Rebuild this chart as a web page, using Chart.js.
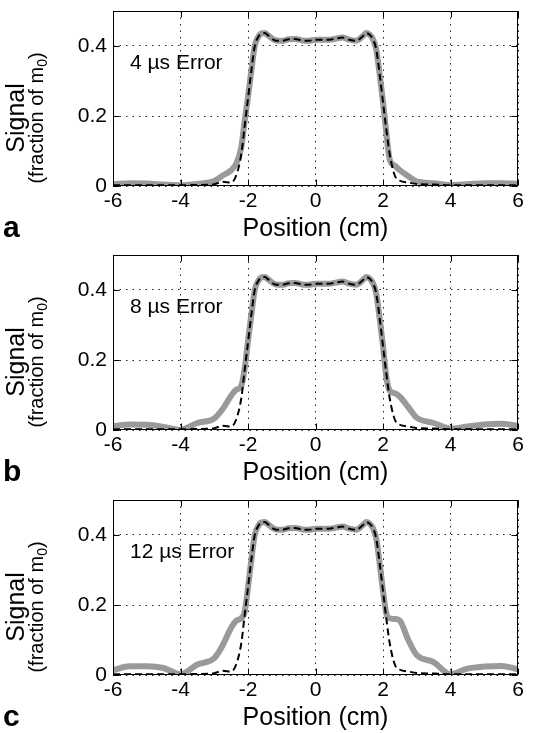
<!DOCTYPE html>
<html lang="en">
<head>
<meta charset="UTF-8">
<title>Signal vs position</title>
<style>
  html, body { margin: 0; padding: 0; background: #fff; }
  .panel { position: relative; width: 534px; }
</style>
</head>
<body>
  <div class="panel" style="height:244px"><canvas id="chartA"></canvas></div>
  <div class="panel" style="height:245px"><canvas id="chartB"></canvas></div>
  <div class="panel" style="height:244px"><canvas id="chartC"></canvas></div>
<script src="https://cdn.jsdelivr.net/npm/chart.js@4.4.0/dist/chart.umd.min.js"></script>
<script>
// position in cm
const positions = [-6, -5.5, -5, -4.5, -4, -3.5, -3, -2.75, -2.5, -2.35,
  -2.2, -2.1, -2, -1.9, -1.8, -1.7, -1.6, -1.5, -1.4, -1.2,
  -1, -0.8, -0.6, -0.4, -0.2, 0, 0.2, 0.4, 0.6, 0.8,
  1, 1.2, 1.4, 1.5, 1.6, 1.7, 1.8, 1.9, 2, 2.1,
  2.2, 2.35, 2.5, 2.75, 3, 3.5, 4, 4.5, 5, 5.5, 6];

// dashed reference profile (no error)
const idealProfile = [0.002, 0.002, 0.002, 0.002, 0.002, 0.003, 0.005, 0.012, 0.010, 0.030,
  0.090, 0.170, 0.250, 0.330, 0.400, 0.425, 0.436, 0.437, 0.430, 0.416,
  0.415, 0.419, 0.420, 0.416, 0.415, 0.418, 0.418, 0.418, 0.421, 0.424,
  0.418, 0.415, 0.428, 0.437, 0.433, 0.420, 0.390, 0.320, 0.240, 0.160,
  0.090, 0.030, 0.015, 0.010, 0.006, 0.004, 0.002, 0.002, 0.002, 0.002, 0.002];

// gray profiles with timing error
const signal4us = [0.005, 0.008, 0.007, 0.004, 0.002, 0.006, 0.014, 0.030, 0.045, 0.064,
  0.110, 0.185, 0.255, 0.330, 0.400, 0.425, 0.436, 0.437, 0.430, 0.417,
  0.415, 0.419, 0.420, 0.416, 0.415, 0.418, 0.418, 0.418, 0.421, 0.424,
  0.418, 0.415, 0.428, 0.437, 0.433, 0.420, 0.390, 0.320, 0.240, 0.150,
  0.075, 0.058, 0.045, 0.028, 0.013, 0.008, 0.003, 0.005, 0.008, 0.008, 0.006];

const signal8us = [0.011, 0.016, 0.015, 0.009, 0.001, 0.020, 0.033, 0.060, 0.098, 0.115,
  0.126, 0.175, 0.255, 0.330, 0.400, 0.425, 0.436, 0.437, 0.430, 0.417,
  0.415, 0.419, 0.420, 0.416, 0.415, 0.418, 0.418, 0.418, 0.421, 0.424,
  0.418, 0.415, 0.428, 0.437, 0.433, 0.420, 0.390, 0.320, 0.240, 0.150,
  0.112, 0.105, 0.095, 0.065, 0.035, 0.020, 0.004, 0.010, 0.016, 0.018, 0.012];

const signal12us = [0.014, 0.025, 0.025, 0.020, 0.002, 0.030, 0.048, 0.085, 0.135, 0.155,
  0.162, 0.180, 0.250, 0.330, 0.400, 0.425, 0.436, 0.437, 0.430, 0.417,
  0.415, 0.419, 0.420, 0.416, 0.415, 0.418, 0.418, 0.418, 0.421, 0.424,
  0.418, 0.415, 0.428, 0.437, 0.433, 0.420, 0.390, 0.320, 0.240, 0.175,
  0.162, 0.160, 0.155, 0.100, 0.057, 0.037, 0.002, 0.018, 0.024, 0.026, 0.016];

const xTicks = [-6, -4, -2, 0, 2, 4, 6];
const yTicks = [0, 0.2, 0.4];
const errorLabels = ['4 \u00b5s Error', '8 \u00b5s Error', '12 \u00b5s Error'];
const panelLetters = ['a', 'b', 'c'];

const FONT = '"Liberation Sans", Arial, Helvetica, sans-serif';

const toPoints = vals => positions.map((x, i) => ({ x: x, y: vals[i] }));

const frameAndText = {
  id: 'frameAndText',
  afterDatasetsDraw(chart) {
    const { ctx, chartArea: a, scales } = chart;
    const l = Math.round(a.left) + 0.5, r = Math.round(a.right) - 0.5;
    const t = Math.round(a.top) + 0.5, b = Math.round(a.bottom) - 0.5;
    ctx.save();
    ctx.strokeStyle = '#000';
    ctx.lineWidth = 1;
    ctx.setLineDash([]);
    ctx.strokeRect(l, t, r - l, b - t);
    // inward tick marks, matlab style
    ctx.beginPath();
    xTicks.forEach(v => {
      const px = Math.round(scales.x.getPixelForValue(v)) + 0.5;
      ctx.moveTo(px, b); ctx.lineTo(px, b - 6);
      ctx.moveTo(px, t); ctx.lineTo(px, t + 6);
    });
    yTicks.forEach(v => {
      const py = Math.round(scales.y.getPixelForValue(v)) + 0.5;
      ctx.moveTo(l, py); ctx.lineTo(l + 6, py);
      ctx.moveTo(r, py); ctx.lineTo(r - 6, py);
    });
    ctx.stroke();
    ctx.restore();
  },
  afterDraw(chart, args, opts) {
    const { ctx, chartArea: a } = chart;
    ctx.save();
    ctx.fillStyle = '#000';
    ctx.textBaseline = 'alphabetic';

    // error label inside plot
    ctx.font = '21px ' + FONT;
    ctx.textAlign = 'left';
    ctx.fillText(opts.label, 130, 69);

    // x axis title
    ctx.font = '25px ' + FONT;
    ctx.textAlign = 'center';
    ctx.fillText('Position (cm)', (a.left + a.right) / 2, 236);

    // panel letter
    ctx.font = 'bold 30px ' + FONT;
    ctx.textAlign = 'left';
    ctx.fillText(opts.letter, 3, 237);

    // y axis titles (rotated)
    ctx.save();
    ctx.translate(24, 118);
    ctx.rotate(-Math.PI / 2);
    ctx.font = '25px ' + FONT;
    ctx.textAlign = 'center';
    ctx.fillText('Signal', 0, 0);
    ctx.restore();

    ctx.save();
    ctx.translate(43, 118);
    ctx.rotate(-Math.PI / 2);
    ctx.textAlign = 'left';
    ctx.font = '20px ' + FONT;
    const main = '(fraction of m';
    const w1 = ctx.measureText(main).width;
    const wp = ctx.measureText(')').width;
    ctx.font = '14px ' + FONT;
    const w2 = ctx.measureText('0').width;
    const start = -(w1 + w2 + wp) / 2;
    ctx.font = '20px ' + FONT;
    ctx.fillText(main, start, 0);
    ctx.font = '14px ' + FONT;
    ctx.fillText('0', start + w1, 4);
    ctx.font = '20px ' + FONT;
    ctx.fillText(')', start + w1 + w2, 0);
    ctx.restore();

    ctx.restore();
  }
};

function makeChart(id, series, label, letter, h) {
  const ctx = document.getElementById(id).getContext('2d');
  return new Chart(ctx, {
    type: 'line',
    data: {
      datasets: [
        {
          data: toPoints(idealProfile),
          borderColor: '#000',
          borderWidth: 2,
          borderDash: [7, 4],
          pointRadius: 0,
          cubicInterpolationMode: 'monotone',
          order: 0
        },
        {
          data: toPoints(series),
          borderColor: '#9a9a9a',
          borderWidth: 6,
          pointRadius: 0,
          cubicInterpolationMode: 'monotone',
          order: 1
        }
      ]
    },
    options: {
      responsive: true,
      maintainAspectRatio: false,
      animation: false,
      layout: { autoPadding: false, padding: { left: 0, right: 16, top: 11, bottom: 0 } },
      plugins: {
        legend: { display: false },
        tooltip: { enabled: false },
        frameAndText: { label: label, letter: letter }
      },
      scales: {
        x: {
          type: 'linear',
          min: -6,
          max: 6,
          afterBuildTicks: s => { s.ticks = xTicks.map(v => ({ value: v })); },
          afterFit: s => {
            s.height = h - 186;
            s.paddingLeft = 0; s.paddingRight = 0; s.paddingTop = 0; s.paddingBottom = 0;
          },
          grid: { color: '#222', lineWidth: 1, drawTicks: false },
          border: { display: false, dash: [1.5, 5] },
          ticks: {
            padding: 3,
            color: '#000',
            font: { family: FONT, size: 21 },
            callback: v => String(v)
          }
        },
        y: {
          min: 0,
          max: 0.5,
          afterBuildTicks: s => { s.ticks = yTicks.map(v => ({ value: v })); },
          afterFit: s => {
            s.width = 113;
            s.paddingLeft = 0; s.paddingRight = 0; s.paddingTop = 0; s.paddingBottom = 0;
          },
          grid: { color: '#222', lineWidth: 1, drawTicks: false },
          border: { display: false, dash: [1.5, 5] },
          ticks: {
            padding: 6,
            color: '#000',
            font: { family: FONT, size: 21 },
            callback: v => String(v)
          }
        }
      }
    },
    plugins: [frameAndText]
  });
}

makeChart('chartA', signal4us, errorLabels[0], panelLetters[0], 244);
makeChart('chartB', signal8us, errorLabels[1], panelLetters[1], 245);
makeChart('chartC', signal12us, errorLabels[2], panelLetters[2], 244);
</script>
</body>
</html>
